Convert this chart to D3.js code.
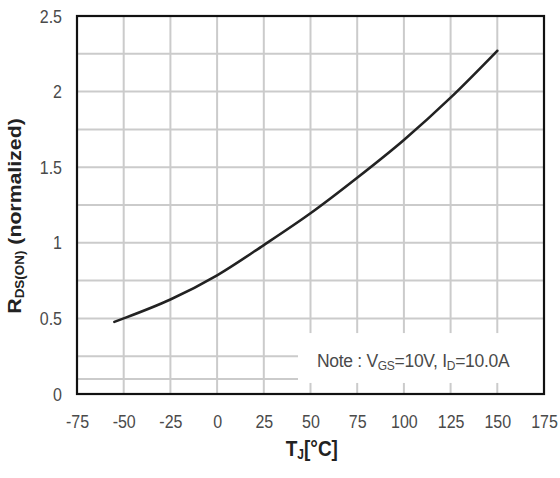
<!DOCTYPE html>
<html>
<head>
<meta charset="utf-8">
<script src="https://cdn.jsdelivr.net/npm/d3@7"></script>
<style>
  body { margin: 0; background: #fff; }
</style>
</head>
<body>
<div id="chart"></div>
<script>
// junction temperature vs normalized on-resistance
const tempC = [-55, -50, -25, 0, 25, 50, 75, 100, 125, 150]
const rdsOn = [0.477, 0.50, 0.625, 0.785, 0.985, 1.195, 1.43, 1.68, 1.96, 2.27]

const xTicks = [-75, -50, -25, 0, 25, 50, 75, 100, 125, 150, 175]
const yTicks = [0, 0.5, 1, 1.5, 2, 2.5]
const xGrid = [-50, -25, 0, 25, 50, 75, 100, 125, 150]
const yGrid = [0.1, 0.25, 0.5, 0.75, 1, 1.25, 1.5, 1.75, 2, 2.25]

const W = 560, H = 478
let margin = { top: 16, right: 16, bottom: 84, left: 77 }
let width = W - margin.left - margin.right
let height = H - margin.top - margin.bottom
const FONT = "Liberation Sans, Arial, sans-serif"

const svg = d3.select("#chart")
    .append("svg")
    .attr("width", W)
    .attr("height", H)
    .append("g")
    .attr("transform", "translate(" + margin.left + "," + margin.top + ")")

let x = d3.scaleLinear().domain([-75, 175]).range([0, width])
let y = d3.scaleLinear().domain([0, 2.5]).range([height, 0])

// note box position (in data units)
const noteX = 43.3, noteY0 = 0.073, noteY1 = 0.403

// grid
const grid = svg.append("g")
    .attr("stroke", "#cbcbcb")
    .attr("stroke-width", 2)

grid.selectAll(".vg")
    .data(xGrid)
    .enter()
    .append("line")
    .attr("x1", d => x(d)).attr("x2", d => x(d))
    .attr("y1", 0).attr("y2", height)

grid.selectAll(".hg")
    .data(yGrid)
    .enter()
    .append("line")
    .attr("x1", 0).attr("x2", width)
    .attr("y1", d => y(d)).attr("y2", d => y(d))

// white note box covering the grid
svg.append("rect")
    .attr("x", x(noteX))
    .attr("y", y(noteY1))
    .attr("width", width - x(noteX) - 1)
    .attr("height", y(noteY0) - y(noteY1))
    .attr("fill", "#fff")

const note = svg.append("text")
    .attr("x", x(noteX) + 19)
    .attr("y", y(noteY1) + 34)
    .attr("font-family", FONT)
    .attr("font-size", 17.5)
    .attr("letter-spacing", -0.3)
    .style("fill", "#4a4a4a")
note.append("tspan").text("Note : V")
note.append("tspan").attr("font-size", 12).attr("dy", 3).text("GS")
note.append("tspan").attr("dy", -3).text("=10V, I")
note.append("tspan").attr("font-size", 12).attr("dy", 3).text("D")
note.append("tspan").attr("dy", -3).text("=10.0A")

// curve
const pts = tempC.map((t, i) => [t, rdsOn[i]])
svg.append("path")
    .datum(pts)
    .attr("fill", "none")
    .attr("stroke", "#222")
    .attr("stroke-width", 2.6)
    .attr("stroke-linecap", "round")
    .attr("d", d3.line()
        .x(d => x(d[0]))
        .y(d => y(d[1]))
        .curve(d3.curveMonotoneX))

// frame
svg.append("rect")
    .attr("x", 0).attr("y", 0)
    .attr("width", width).attr("height", height)
    .attr("fill", "none")
    .attr("stroke", "#111")
    .attr("stroke-width", 2.2)

// axes
const xAxis = d3.axisBottom(x).tickValues(xTicks).tickSize(0).tickPadding(17)
    .tickFormat(d => String(d))
const yAxis = d3.axisLeft(y).tickValues(yTicks).tickSize(0).tickPadding(15)
    .tickFormat(d => String(d))

svg.append("g")
    .attr("transform", "translate(0," + height + ")")
    .call(xAxis)
svg.append("g").call(yAxis)

svg.selectAll(".domain").remove()
svg.selectAll(".tick text")
    .attr("font-size", 16)
    .attr("font-family", FONT)
    .attr("transform", "scale(1,1.2)")
    .style("fill", "#4a4a4a")

// axis titles
const xt = svg.append("text")
    .attr("transform", "translate(" + (x(25) + 48) + "," + (height + 62) + ") scale(1,1.15)")
    .attr("text-anchor", "middle")
    .attr("font-size", 19)
    .attr("font-weight", "bold")
    .attr("font-family", FONT)
    .style("fill", "#222")
xt.append("tspan").text("T")
xt.append("tspan").attr("font-size", 12).attr("dy", 3).text("J")
xt.append("tspan").attr("dy", -3).text("[°C]")

const yt = svg.append("text")
    .attr("transform", "translate(" + (-56) + "," + (200) + ") rotate(-90) scale(1.12,1)")
    .attr("text-anchor", "middle")
    .attr("font-size", 19)
    .attr("font-weight", "bold")
    .attr("font-family", FONT)
    .style("fill", "#222")
yt.append("tspan").text("R")
yt.append("tspan").attr("font-size", 12).attr("dy", 3).text("DS(ON)")
yt.append("tspan").attr("dy", -3).text(" (normalized)")
</script>
</body>
</html>
